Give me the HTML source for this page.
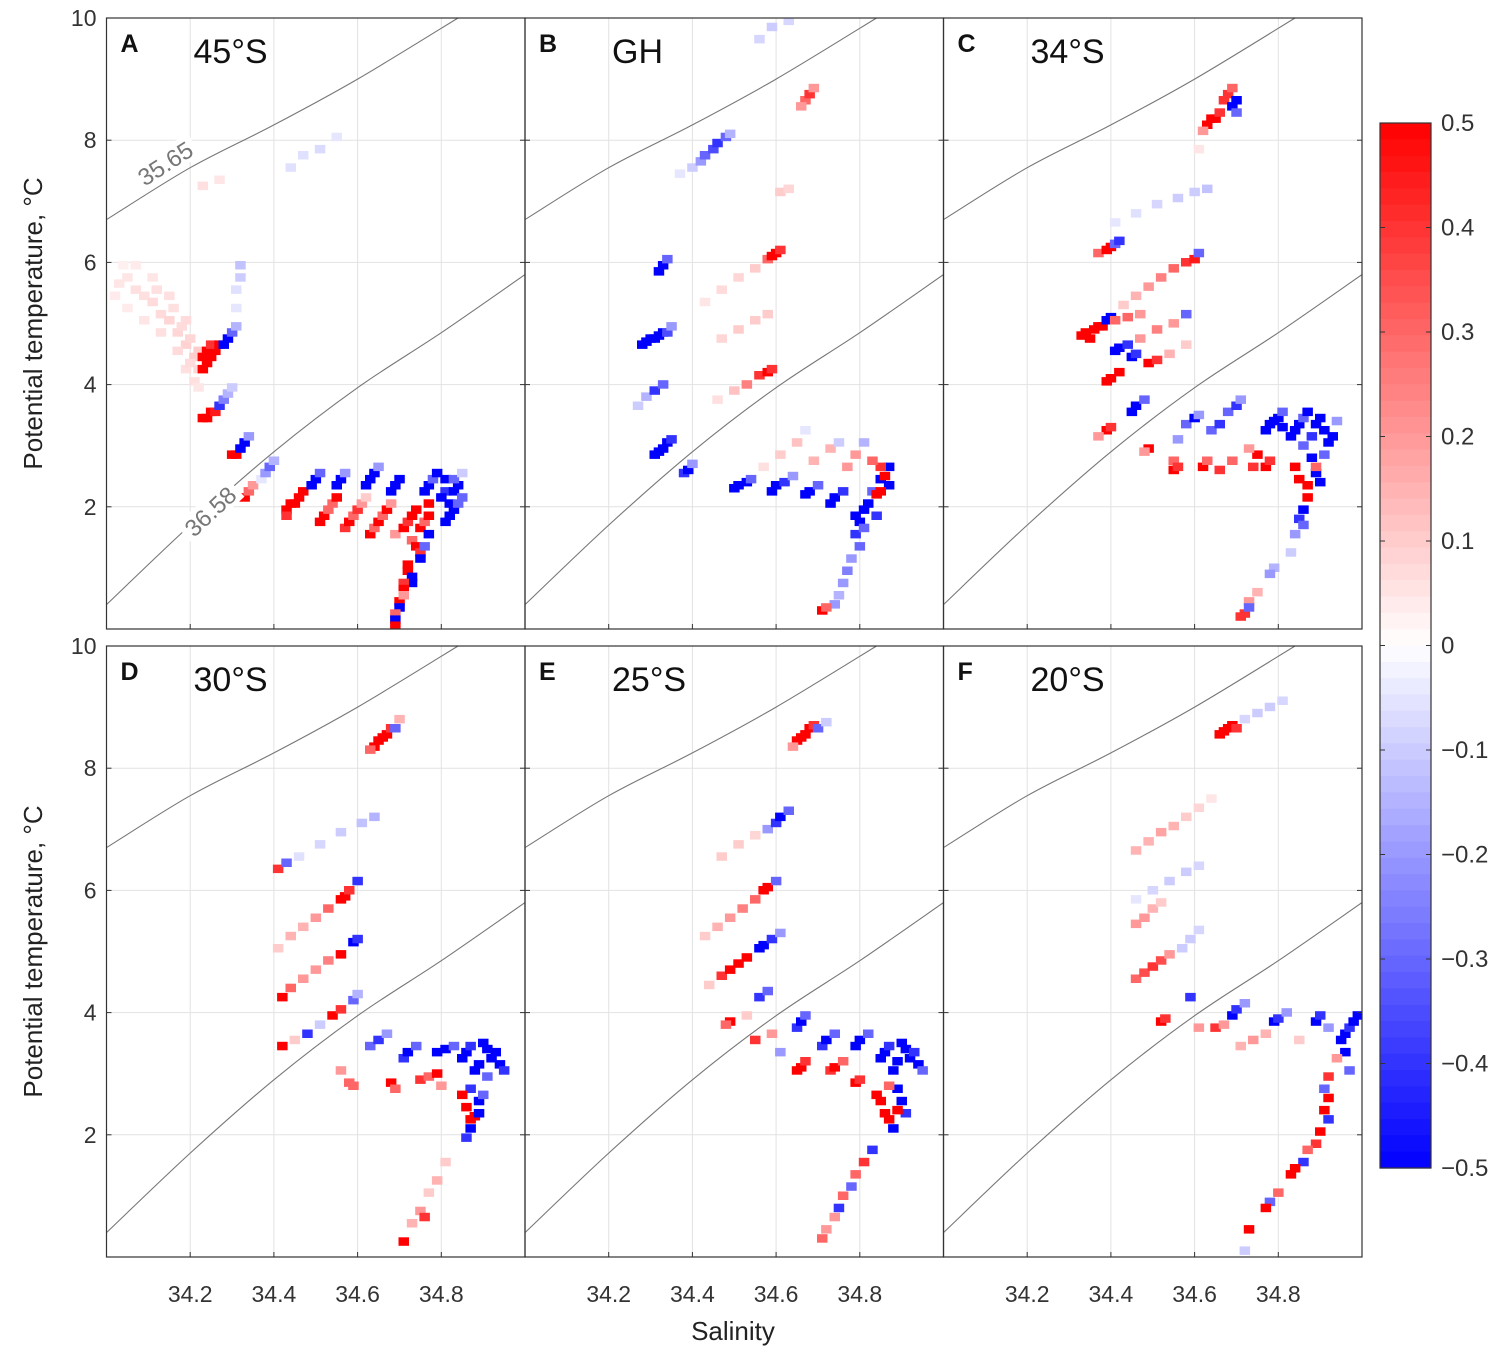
<!DOCTYPE html>
<html><head><meta charset="utf-8"><style>
body{margin:0;background:#fff;}
svg text{font-family:"Liberation Sans",sans-serif;}
</style></head><body>
<svg id="fig" width="1505" height="1352" viewBox="0 0 1505 1352" xmlns="http://www.w3.org/2000/svg"></svg>
<script>
const panelLetters=["A","B","C","D","E","F"];
const panelTitles=["45°S","GH","34°S","30°S","25°S","20°S"];
const xTicks=[34.2,34.4,34.6,34.8];
const xTickLabels=["34.2","34.4","34.6","34.8"];
const yTicks=[2,4,6,8,10];
const yTickLabels=["2","4","6","8","10"];
const cbTicks=[0.5,0.4,0.3,0.2,0.1,0,-0.1,-0.2,-0.3,-0.4,-0.5];
const cbTickLabels=["0.5","0.4","0.3","0.2","0.1","0","\u22120.1","\u22120.2","\u22120.3","\u22120.4","\u22120.5"];
const iso1S=[34.0,34.2,34.4,34.6,34.84];
const iso1T=[6.7,7.55,8.25,9.0,10.0];
const iso2S=[34.0,34.2,34.4,34.6,34.8,35.0];
const iso2T=[0.4,1.7,2.9,3.95,4.85,5.8];
const cellsA=[[34.02,5.6,.05],[34.04,5.7,.05],[34.06,5.5,.06],[34.08,5.4,.06],[34.10,5.3,.07],[34.12,5.1,.07],[34.14,5.0,.08],[34.16,4.8,.08],[34.18,4.6,.09],[34.20,4.4,.1],[34.04,5.2,.04],[34.08,5.0,.05],[34.12,4.8,.06],[34.16,4.5,.07],[34.18,4.2,.06],[34.20,4.0,.06],[34.06,5.9,.04],[34.10,5.7,.05],[34.14,5.4,.06],[34.18,5.0,.07],[34.01,5.4,.04],[34.03,5.9,.03],[34.11,5.5,.06],[34.15,5.2,.06],[34.17,4.9,.07],[34.19,4.7,.08],[34.21,4.5,.1],[34.19,4.3,.07],[34.21,4.2,.08],[34.21,3.9,.05],
[34.22,4.2,.5],[34.23,4.3,.5],[34.22,4.4,.5],[34.23,4.5,.5],[34.24,4.4,.5],[34.25,4.5,.5],[34.24,4.6,.4],[34.26,4.6,.5],[34.27,4.6,-.5],[34.28,4.7,-.5],[34.29,4.8,-.3],[34.30,4.9,-.15],
[34.30,5.2,-.05],[34.30,5.5,-.06],[34.31,5.7,-.1],[34.31,5.9,-.12],
[34.22,3.4,.5],[34.23,3.4,.5],[34.24,3.5,.5],[34.25,3.5,.45],[34.26,3.6,-.4],[34.27,3.7,-.25],[34.28,3.8,-.15],[34.29,3.9,-.1],
[34.29,2.8,.5],[34.30,2.8,.5],[34.31,2.9,-.5],[34.32,3.0,-.5],[34.33,3.1,-.2],
[34.32,2.1,.5],[34.33,2.2,.3],[34.34,2.3,.2],[34.36,2.4,-.05],[34.37,2.5,-.2],[34.38,2.6,-.3],[34.39,2.7,-.15],
[34.42,1.9,.5],[34.43,2.0,.5],[34.44,2.0,.5],[34.45,2.1,.5],[34.46,2.2,.5],[34.42,1.8,.4],
[34.48,2.3,-.5],[34.49,2.4,-.5],[34.50,2.5,-.3],
[34.50,1.7,.5],[34.51,1.8,.5],[34.52,1.9,.3],[34.53,2.0,.3],[34.54,2.1,.5],
[34.54,2.3,-.5],[34.55,2.4,-.5],[34.56,2.5,-.2],
[34.56,1.6,.4],[34.57,1.7,.5],[34.58,1.8,.3],[34.59,1.9,.4],[34.60,2.0,.2],[34.61,2.1,.1],
[34.61,2.3,-.5],[34.62,2.4,-.5],[34.63,2.5,-.5],[34.64,2.6,-.2],
[34.62,1.5,.5],[34.63,1.6,.3],[34.64,1.7,.5],[34.65,1.8,.3],[34.66,1.9,.5],[34.67,2.0,.2],
[34.67,2.2,-.5],[34.68,2.3,-.5],[34.69,2.4,-.5],
[34.68,1.5,.2],[34.70,1.6,.5],[34.71,1.7,.4],[34.72,1.8,.5],[34.73,1.9,.5],
[34.72,1.4,.3],[34.74,1.6,.5],[34.75,1.7,.3],[34.76,1.8,.5],[34.76,2.0,.5],
[34.75,2.2,-.5],[34.76,2.3,-.5],[34.77,2.4,-.3],[34.78,2.5,-.5],[34.80,2.4,-.5],[34.80,2.2,-.4],[34.79,2.1,-.5],[34.81,2.0,-.5],[34.82,1.9,-.5],[34.82,2.2,-.5],[34.83,2.3,-.5],[34.83,2.0,-.3],[34.81,1.8,-.5],[34.80,1.7,-.5],[34.82,2.4,-.3],[34.84,2.1,-.3],[34.84,2.5,-.1],
[34.73,1.3,.5],[34.74,1.2,.4],[34.75,1.3,-.3],[34.76,1.5,-.5],[34.74,1.1,-.5],
[34.71,1.0,.5],[34.71,0.9,.5],[34.72,0.8,-.5],[34.72,0.7,-.5],[34.70,0.7,.4],[34.70,0.6,.5],[34.69,0.4,.5],[34.70,0.5,.2],[34.69,0.3,-.5],[34.68,0.2,.3],[34.68,0.1,-.5],[34.68,0.0,.5],
[34.22,7.2,.06],[34.26,7.3,.05],[34.43,7.5,-.06],[34.46,7.7,-.06],[34.50,7.8,-.07],[34.54,8.0,-.05]];
const cellsB=[[34.55,9.6,-.08],[34.58,9.8,-.1],[34.62,9.9,-.08],[34.66,8.6,.3],[34.67,8.7,.4],[34.68,8.8,.2],[34.65,8.5,.2],
[34.36,7.4,-.05],[34.39,7.5,-.1],[34.41,7.6,-.2],[34.42,7.7,-.3],[34.44,7.8,-.35],[34.45,7.9,-.4],[34.47,8.0,-.3],[34.48,8.05,-.15],
[34.60,7.1,.1],[34.62,7.15,.08],
[34.42,5.3,.05],[34.46,5.5,.07],[34.50,5.7,.08],[34.54,5.85,.1],[34.57,6.0,.3],[34.58,6.05,.5],[34.59,6.1,.5],[34.60,6.15,.4],
[34.31,5.8,-.5],[34.32,5.9,-.5],[34.33,6.0,-.3],
[34.27,4.6,-.5],[34.28,4.65,-.5],[34.29,4.7,-.5],[34.30,4.7,-.5],[34.31,4.75,-.5],[34.32,4.8,-.5],[34.33,4.8,-.35],[34.34,4.9,-.2],
[34.46,4.7,.08],[34.50,4.85,.1],[34.54,5.0,.1],[34.57,5.1,.1],
[34.45,3.7,.06],[34.49,3.85,.12],[34.52,3.95,.25],[34.55,4.1,.4],[34.57,4.15,.5],[34.58,4.2,.4],
[34.26,3.6,-.1],[34.28,3.75,-.15],[34.30,3.85,-.4],[34.32,3.95,-.3],
[34.30,2.8,-.5],[34.31,2.85,-.5],[34.32,2.9,-.5],[34.33,3.0,-.5],[34.34,3.05,-.4],
[34.37,2.5,-.4],[34.38,2.55,-.5],[34.39,2.65,-.2],
[34.49,2.25,-.5],[34.50,2.3,-.5],[34.52,2.35,-.5],[34.53,2.4,-.3],
[34.58,2.2,-.5],[34.59,2.3,-.5],[34.61,2.35,-.4],[34.63,2.45,-.2],
[34.66,2.15,-.5],[34.67,2.2,-.5],[34.69,2.3,-.3],
[34.72,2.0,-.5],[34.73,2.1,-.5],[34.75,2.2,-.4],
[34.78,1.5,-.4],[34.79,1.7,-.5],[34.80,1.9,-.5],[34.81,2.0,-.5],[34.82,2.2,-.3],[34.80,1.6,-.3],[34.79,1.3,-.3],[34.78,1.8,-.5],[34.83,1.8,-.4],[34.84,2.4,-.5],[34.86,2.6,-.5],[34.86,2.3,-.5],
[34.83,2.15,.5],[34.84,2.2,.5],[34.85,2.45,.5],[34.84,2.6,.4],[34.82,2.7,.3],
[34.77,1.1,-.2],[34.76,0.9,-.25],[34.75,0.7,-.2],[34.74,0.5,-.15],[34.73,0.35,-.2],[34.70,0.25,.5],[34.71,0.3,.3],
[34.56,2.6,.06],[34.60,2.8,.1],[34.64,3.0,.12],[34.68,2.7,.15],[34.72,2.9,.15],[34.76,2.6,.2],[34.80,3.0,-.15],[34.74,3.0,-.1],[34.66,3.2,-.05],[34.78,2.8,.2]];
const cellsC=[[34.66,8.6,.4],[34.67,8.7,.4],[34.68,8.8,.3],[34.62,8.2,.5],[34.63,8.3,.5],[34.64,8.3,.5],[34.65,8.4,.4],[34.61,8.1,.2],[34.68,8.5,-.5],[34.69,8.6,-.5],[34.69,8.4,-.3],[34.60,7.8,.05],
[34.40,6.6,-.05],[34.45,6.75,-.06],[34.50,6.9,-.08],[34.55,7.0,-.1],[34.59,7.1,-.1],[34.62,7.15,-.12],
[34.36,6.1,.3],[34.38,6.15,.5],[34.39,6.2,.5],[34.40,6.25,-.3],[34.41,6.3,-.4],
[34.42,5.25,.1],[34.45,5.4,.15],[34.48,5.55,.2],[34.51,5.7,.25],[34.54,5.85,.3],[34.57,5.95,.4],[34.59,6.0,.45],[34.60,6.1,-.3],
[34.32,4.75,.5],[34.33,4.8,.5],[34.34,4.7,.5],[34.35,4.85,.5],[34.36,4.9,.5],[34.37,4.9,.5],[34.38,5.0,-.5],[34.39,5.05,-.5],[34.40,5.0,.3],[34.43,5.05,.3],[34.46,5.1,.2],
[34.40,4.5,-.5],[34.41,4.55,-.5],[34.43,4.6,-.4],[34.46,4.7,.2],[34.50,4.85,.25],[34.54,4.95,.2],[34.57,5.1,-.3],
[34.38,4.0,.5],[34.39,4.05,.5],[34.41,4.15,.5],[34.44,4.4,-.5],[34.45,4.45,-.4],[34.48,4.3,.5],[34.50,4.35,.4],[34.53,4.45,.15],[34.57,4.6,.1],
[34.44,3.5,-.5],[34.45,3.6,-.5],[34.47,3.7,-.3],[34.38,3.2,.5],[34.39,3.25,.4],[34.36,3.1,.2],
[34.48,2.9,.5],[34.47,2.85,.2],[34.54,2.7,.3],[34.55,3.05,-.2],
[34.57,3.3,-.3],[34.59,3.4,-.5],[34.60,3.45,-.2],
[34.54,2.55,.5],[34.55,2.6,.4],[34.61,2.6,.5],[34.62,2.7,.3],[34.65,2.55,.4],[34.68,2.7,.3],
[34.63,3.2,-.3],[34.65,3.3,-.4],[34.67,3.5,-.3],[34.69,3.6,-.4],[34.70,3.7,-.2],
[34.73,2.6,.4],[34.74,2.8,.5],[34.72,2.9,.2],[34.76,2.6,.5],[34.77,2.7,.4],
[34.76,3.2,-.5],[34.77,3.3,-.5],[34.78,3.35,-.5],[34.79,3.4,-.5],[34.80,3.25,-.5],[34.80,3.5,-.3],
[34.82,3.1,-.5],[34.83,3.2,-.5],[34.84,3.3,-.5],[34.85,3.4,-.3],[34.86,3.5,-.5],[34.87,3.1,-.4],[34.88,3.3,-.5],[34.89,3.4,-.5],[34.90,3.2,-.5],[34.91,3.0,-.5],[34.92,3.1,-.5],[34.90,2.8,-.3],[34.93,3.35,-.2],[34.85,2.95,-.3],[34.87,2.75,-.5],[34.88,2.5,-.5],[34.89,2.35,-.5],
[34.83,2.6,.5],[34.84,2.4,.5],[34.86,2.3,.5],[34.88,2.6,.3],[34.86,2.1,.5],[34.85,1.9,-.5],[34.84,1.75,-.4],[34.85,1.65,-.3],[34.83,1.5,-.2],[34.82,1.2,-.1],
[34.78,0.95,-.15],[34.77,0.85,-.2],[34.74,0.55,.15],[34.72,0.4,.2],[34.71,0.2,.4],[34.70,0.15,.4],[34.72,0.3,-.3]];
const cellsD=[[34.63,8.3,.5],[34.64,8.4,.5],[34.65,8.45,.5],[34.66,8.5,.5],[34.67,8.6,.4],[34.62,8.25,.3],[34.68,8.6,-.3],[34.69,8.75,.15],
[34.45,6.5,-.06],[34.50,6.7,-.08],[34.55,6.9,-.1],[34.60,7.05,-.12],[34.63,7.15,-.15],[34.40,6.3,.4],[34.42,6.4,-.3],
[34.40,5.0,.1],[34.43,5.2,.15],[34.46,5.35,.15],[34.49,5.5,.2],[34.52,5.65,.3],[34.55,5.8,.5],[34.56,5.85,.5],[34.57,5.95,.4],[34.59,6.1,-.4],
[34.41,4.2,.5],[34.43,4.35,.3],[34.46,4.5,.2],[34.49,4.65,.2],[34.52,4.8,.25],[34.55,4.9,.5],[34.58,5.1,-.5],[34.59,5.15,-.4],
[34.41,3.4,.5],[34.44,3.5,.1],[34.47,3.6,-.4],[34.50,3.75,-.1],[34.53,3.9,.5],[34.55,4.0,.4],[34.58,4.15,-.3],[34.59,4.25,-.15],
[34.57,2.8,.3],[34.58,2.75,.3],[34.55,3.0,.2],[34.62,3.4,-.3],[34.64,3.5,-.4],[34.66,3.6,-.2],[34.67,2.8,.5],[34.68,2.7,.3],
[34.70,3.2,-.4],[34.71,3.3,-.5],[34.73,3.4,-.3],[34.74,2.85,.4],[34.76,2.9,.3],[34.78,2.95,.5],[34.79,2.75,.2],
[34.78,3.3,-.5],[34.80,3.35,-.5],[34.82,3.4,-.3],
[34.84,3.2,-.5],[34.85,3.3,-.5],[34.86,3.4,-.4],[34.87,3.0,-.5],[34.88,3.1,-.5],[34.89,3.45,-.5],[34.90,3.35,-.5],[34.91,3.2,-.5],[34.92,3.3,-.5],[34.93,3.1,-.5],[34.94,3.0,-.4],[34.90,2.9,-.3],[34.86,2.7,-.4],[34.88,2.5,-.5],
[34.84,2.6,.5],[34.85,2.4,.5],[34.86,2.2,.5],[34.87,2.25,.5],[34.88,2.3,-.5],[34.86,2.05,-.5],[34.85,1.9,-.4],[34.89,2.6,-.3],
[34.80,1.5,.1],[34.78,1.2,.15],[34.76,1.0,.1],[34.74,0.7,.2],[34.72,0.5,.15],[34.70,0.2,.5],[34.75,0.6,.4]];
const cellsE=[[34.64,8.4,.5],[34.65,8.45,.5],[34.66,8.5,.5],[34.67,8.6,.5],[34.68,8.65,.4],[34.63,8.3,.2],[34.69,8.6,-.3],[34.71,8.7,-.1],
[34.46,6.5,.1],[34.50,6.7,.1],[34.54,6.85,.08],[34.57,6.95,-.2],[34.59,7.05,-.4],[34.60,7.15,-.5],[34.62,7.25,-.3],
[34.42,5.2,.1],[34.45,5.35,.15],[34.48,5.5,.2],[34.51,5.65,.25],[34.54,5.8,.3],[34.56,5.95,.5],[34.57,6.0,.5],[34.59,6.1,-.3],
[34.43,4.4,.1],[34.46,4.55,.4],[34.48,4.65,.5],[34.50,4.75,.5],[34.52,4.85,.5],[34.55,5.0,-.5],[34.56,5.05,-.5],[34.58,5.15,-.4],[34.60,5.25,-.2],
[34.48,3.8,.5],[34.47,3.75,.3],[34.52,3.9,.1],[34.55,4.2,-.4],[34.57,4.3,-.3],
[34.54,3.5,.4],[34.58,3.6,.2],[34.60,3.3,-.2],[34.64,3.7,-.4],[34.65,3.8,-.5],[34.66,3.9,-.3],
[34.64,3.0,.5],[34.65,3.05,.5],[34.66,3.15,.4],[34.70,3.4,-.4],[34.71,3.5,-.5],[34.73,3.6,-.3],
[34.72,3.0,.4],[34.73,3.05,.5],[34.75,3.15,.3],[34.78,2.8,.5],[34.79,2.85,.4],
[34.78,3.4,-.5],[34.79,3.5,-.5],[34.81,3.6,-.3],
[34.84,3.2,-.5],[34.85,3.3,-.5],[34.86,3.4,-.4],[34.87,3.0,-.5],[34.88,3.15,-.5],[34.89,3.45,-.5],[34.90,3.35,-.5],[34.91,3.2,-.5],[34.92,3.3,-.4],[34.93,3.1,-.5],[34.94,3.0,-.3],[34.88,2.7,-.5],[34.89,2.5,-.5],[34.90,2.3,-.4],[34.87,2.05,-.5],
[34.83,2.6,.5],[34.84,2.5,.5],[34.85,2.3,.5],[34.86,2.2,.5],[34.88,2.35,.5],[34.86,2.75,.3],
[34.82,1.7,-.4],[34.80,1.5,.4],[34.78,1.3,.3],[34.77,1.1,-.3],[34.75,0.95,.3],[34.74,0.75,-.4],[34.73,0.6,.2],[34.71,0.4,.2],[34.70,0.25,.3]];
const cellsF=[[34.65,8.5,.5],[34.66,8.55,.5],[34.67,8.6,.5],[34.68,8.65,.5],[34.69,8.6,.4],[34.71,8.75,-.08],[34.74,8.85,-.1],[34.77,8.95,-.1],[34.80,9.05,-.08],
[34.45,6.6,.15],[34.48,6.75,.15],[34.51,6.9,.18],[34.54,7.0,.15],[34.57,7.15,.1],[34.60,7.3,.08],[34.63,7.45,.05],
[34.45,5.8,-.05],[34.49,5.95,-.08],[34.53,6.1,-.1],[34.57,6.25,-.1],[34.60,6.35,-.08],
[34.45,5.4,.2],[34.47,5.5,.2],[34.49,5.65,.15],[34.51,5.75,.1],
[34.45,4.5,.3],[34.47,4.6,.35],[34.49,4.7,.4],[34.51,4.8,.35],[34.53,4.9,.2],[34.56,5.0,-.1],[34.58,5.15,-.1],[34.60,5.3,-.08],
[34.51,3.8,.5],[34.52,3.85,.4],[34.58,4.2,-.4],
[34.60,3.7,.2],[34.64,3.7,.4],[34.66,3.75,.2],[34.68,3.9,-.5],[34.69,4.0,-.4],[34.71,4.1,-.2],
[34.70,3.4,.15],[34.73,3.5,.2],[34.76,3.6,.15],[34.78,3.8,-.5],[34.79,3.85,-.4],[34.81,3.95,-.2],
[34.84,3.5,.1],[34.88,3.8,-.5],[34.89,3.9,-.4],[34.91,3.7,-.2],
[34.94,3.5,-.5],[34.95,3.6,-.5],[34.96,3.7,-.4],[34.97,3.8,-.5],[34.98,3.9,-.5],[34.95,3.3,-.5],[34.96,3.0,-.3],[34.93,3.2,.2],
[34.91,2.9,.4],[34.90,2.7,-.3],[34.91,2.55,.5],[34.90,2.35,.5],[34.91,2.2,-.4],[34.89,2.0,.5],[34.88,1.8,.4],[34.86,1.7,.3],[34.85,1.5,-.4],[34.83,1.4,.5],[34.82,1.3,.5],[34.79,1.0,.3],[34.77,0.85,-.3],[34.76,0.75,.5],[34.72,0.4,.5],[34.71,0.05,-.1]];
const panelCells=[cellsA,cellsB,cellsC,cellsD,cellsE,cellsF];

const NS="http://www.w3.org/2000/svg";
const svg=document.getElementById('fig');
function mk(tag,attrs,parent){const e=document.createElementNS(NS,tag);for(const k in attrs)e.setAttribute(k,attrs[k]);(parent||svg).appendChild(e);return e;}
const colX=[106.5,525,943.5], rowY=[18,646], PW=418.5, PH=611;
const S0=34.0,S1=35.0,T0=0,T1=10;
function color(v){v=Math.max(-0.5,Math.min(0.5,v));
  if(v>=0){const c=Math.round(255*(1-v/0.5));return `rgb(255,${c},${c})`;}
  const c=Math.round(255*(1+v/0.5));return `rgb(${c},${c},255)`;}
function isoPath(xs,ys,sx,sy){
  const P=xs.map((s,i)=>[sx(s),sy(ys[i])]);
  let d="M"+P[0][0].toFixed(1)+","+P[0][1].toFixed(1);
  for(let i=0;i<P.length-1;i++){
    const p0=P[Math.max(0,i-1)],p1=P[i],p2=P[i+1],p3=P[Math.min(P.length-1,i+2)];
    const c1=[p1[0]+(p2[0]-p0[0])/6,p1[1]+(p2[1]-p0[1])/6];
    const c2=[p2[0]-(p3[0]-p1[0])/6,p2[1]-(p3[1]-p1[1])/6];
    d+=`C${c1[0].toFixed(1)},${c1[1].toFixed(1)} ${c2[0].toFixed(1)},${c2[1].toFixed(1)} ${p2[0].toFixed(1)},${p2[1].toFixed(1)}`;
  }
  return d;}

for(let p=0;p<6;p++){
  const x0=colX[p%3], y0=rowY[Math.floor(p/3)];
  const sx=s=>x0+(s-S0)/(S1-S0)*PW;
  const sy=t=>y0+PH-(t-T0)/(T1-T0)*PH;
  const g=mk('g',{});
  
  
  const cp=mk('clipPath',{id:'cp'+p},g);mk('rect',{x:x0,y:y0,width:PW,height:PH},cp);
  xTicks.forEach(s=>{const l=mk('line',{x1:sx(s),x2:sx(s),y1:y0,y2:y0+PH,stroke:'#e2e2e2','stroke-width':1},g);
    });
  yTicks.forEach(t=>{const l=mk('line',{x1:x0,x2:x0+PW,y1:sy(t),y2:sy(t),stroke:'#e2e2e2','stroke-width':1},g);
    });
  const cg=mk('g',{'clip-path':`url(#cp${p})`},g);
  
  panelCells[p].forEach(c=>{const r=mk('rect',{x:(sx(c[0])-1).toFixed(1),y:(sy(c[1])-7.5).toFixed(1),width:10.5,height:8.5,fill:color(c[2])},cg);
    });
  const i1=mk('path',{d:isoPath(iso1S,iso1T,sx,sy),fill:'none',stroke:'#777','stroke-width':1.1,'clip-path':`url(#cp${p})`},g);
  
  const i2=mk('path',{d:isoPath(iso2S,iso2T,sx,sy),fill:'none',stroke:'#777','stroke-width':1.1,'clip-path':`url(#cp${p})`},g);
  
  if(p===0){
    mk('rect',{x:130,y:150,width:70,height:26,fill:'#fff',transform:'rotate(-33 165 163)'},g);
    const a=mk('text',{x:165,y:172,'font-size':24,fill:'#777','text-anchor':'middle',transform:'rotate(-33 165 163)'},g);a.textContent='35.65';
    
    mk('rect',{x:175,y:498,width:70,height:26,fill:'#fff',transform:'rotate(-43 210 511)'},g);
    const b=mk('text',{x:210,y:520,'font-size':24,fill:'#777','text-anchor':'middle',transform:'rotate(-43 210 511)'},g);b.textContent='36.58';
    
  }
  const fr=mk('rect',{x:x0,y:y0,width:PW,height:PH,fill:'none',stroke:'#333','stroke-width':1.2},g);
  
  xTicks.forEach(s=>{mk('line',{x1:sx(s),x2:sx(s),y1:y0+PH,y2:y0+PH-5,stroke:'#333'},g);});
  yTicks.forEach(t=>{mk('line',{x1:x0,x2:x0+5,y1:sy(t),y2:sy(t),stroke:'#333'},g);mk('line',{x1:x0+PW,x2:x0+PW-5,y1:sy(t),y2:sy(t),stroke:'#333'},g);});
  const lt=mk('text',{x:x0+14,y:y0+34,'font-size':25,'font-weight':'bold',fill:'#111'},g);lt.textContent=panelLetters[p];
  
  const tt=mk('text',{x:x0+87,y:y0+45,'font-size':34,fill:'#111'},g);tt.textContent=panelTitles[p];
  
  if(p%3===0){
    yTicks.forEach((t,i)=>{const e=mk('text',{x:x0-10,y:sy(t)+8,'font-size':23,fill:'#333','text-anchor':'end'},g);e.textContent=yTickLabels[i];
      });
    const cy=y0+PH/2;
    const yl=mk('text',{x:42,y:cy,'font-size':26,fill:'#222','text-anchor':'middle',transform:`rotate(-90 42 ${cy})`},g);
    yl.textContent='Potential temperature, \u00B0C';
    
  }
  if(p>=3){
    xTicks.forEach((s,i)=>{const e=mk('text',{x:sx(s),y:1302,'font-size':23,fill:'#333','text-anchor':'middle'},g);e.textContent=xTickLabels[i];
      });
  }
}
const xt=mk('text',{x:733,y:1340,'font-size':26,fill:'#222','text-anchor':'middle'});xt.textContent='Salinity';


const cbX=1380,cbW=51,cbTop=123,cbBot=1168;
const cb=mk('g',{});
const N=64;
for(let i=0;i<N;i++){const v=0.5-(i+0.5)/N;const h=(cbBot-cbTop)/N;
  mk('rect',{x:cbX,y:cbTop+i*h,width:cbW,height:h+0.6,fill:color(v)},cb);}
mk('rect',{x:cbX,y:cbTop,width:cbW,height:cbBot-cbTop,fill:'none',stroke:'#333','stroke-width':1.2},cb);
const cby=v=>cbTop+(0.5-v)/1.0*(cbBot-cbTop);
cbTicks.forEach((v,i)=>{mk('line',{x1:cbX,x2:cbX+5,y1:cby(v),y2:cby(v),stroke:'#333'},cb);mk('line',{x1:cbX+cbW,x2:cbX+cbW-5,y1:cby(v),y2:cby(v),stroke:'#333'},cb);
  const e=mk('text',{x:1441,y:cby(v)+8,'font-size':24,fill:'#333'},cb);e.textContent=cbTickLabels[i];
  });
</script>
</body></html>
